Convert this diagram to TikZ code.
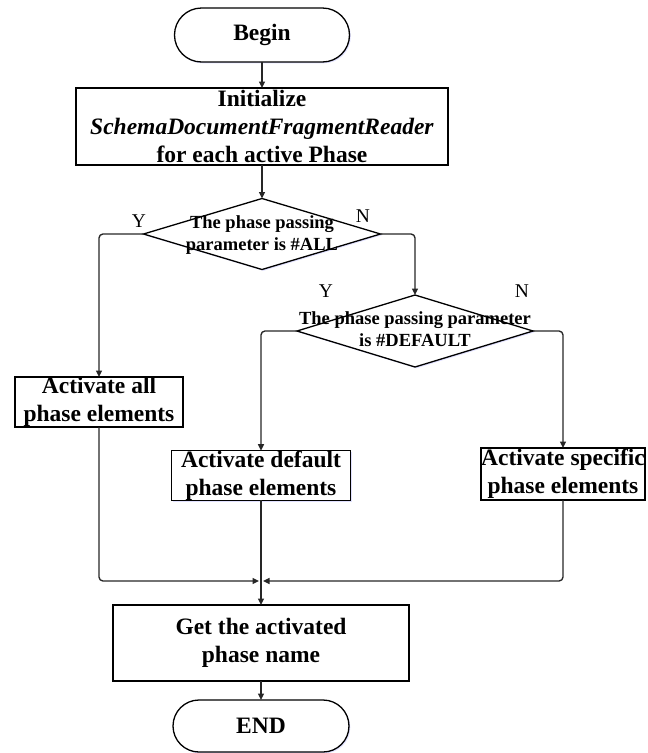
\documentclass[tikz,border=0pt]{standalone}
\usepackage{fontspec}
\setmainfont{Liberation Serif}
\usetikzlibrary{arrows.meta,shapes.geometric,shapes.misc,shadows}

\newcommand\flowfont{\fontsize{23.5}{28}\selectfont\bfseries}
\newcommand\askfont{\fontsize{18.5}{22}\selectfont\bfseries}
\newcommand\ynfont{\fontsize{19.5}{22}\selectfont}

\begin{document}
\begin{tikzpicture}[x=1pt,y=-1pt,
  every node/.style={inner sep=0pt, outer sep=0pt},
  soft/.style={drop shadow={shadow xshift=1.3pt, shadow yshift=-1.3pt,
      fill=blue!40, opacity=0.3}},
  stepbox/.style={rectangle, draw=black, fill=white, line width=1.4pt,
      align=center, font=\flowfont, soft},
  terminal/.style={rounded rectangle, draw=black, fill=white, line width=1.3pt,
      font=\flowfont, soft},
  question/.style={diamond, draw=black, fill=white, line width=1.3pt, soft},
  asktext/.style={align=center, font=\askfont},
  yn/.style={font=\ynfont},
  conn/.style={draw=black!85, line width=1.35pt, rounded corners=4pt,
      -{Triangle[length=6.5pt,width=6pt]}}]

\useasboundingbox (0,0) rectangle (648,753);

% terminals and processing steps
\node[terminal, minimum width=175pt, minimum height=54pt] (begin) at (262,35) {Begin};
\node[stepbox, minimum width=372pt, minimum height=77pt] (init) at (262,126.5)
  {Initialize\\ \textit{SchemaDocumentFragmentReader}\\ for each active Phase};

% first decision
\node[question, minimum width=237pt, minimum height=71pt] (d1) at (262,234) {};
\node[asktext] (d1t) at (262,235) {The phase passing\\ parameter is \#ALL};
\node[yn] (y1) at (139,221) {Y};
\node[yn] (n1) at (363,216) {N};

% second decision
\node[question, minimum width=236pt, minimum height=72pt] (d2) at (415,331) {};
\node[asktext] (d2t) at (415,329) {The phase passing parameter\\ is \#DEFAULT};
\node[yn] (y2) at (326,291) {Y};
\node[yn] (n2) at (522,291) {N};

% activation steps
\node[stepbox, minimum width=168pt, minimum height=50pt] (all) at (99,402)
  {Activate all\\ phase elements};
\node[stepbox, minimum width=179pt, minimum height=49pt] (default) at (261,475.5)
  {Activate default\\ phase elements};
\node[stepbox, minimum width=164pt, minimum height=52pt] (specific) at (563,474)
  {Activate specific\\ phase elements};

% merge point
\coordinate (mergeL) at (259,581);
\coordinate (mergeR) at (263,581);

% final steps
\node[stepbox, minimum width=296pt, minimum height=76pt] (get) at (261,643)
  {Get the activated\\ phase name};
\node[terminal, minimum width=176pt, minimum height=52pt] (end) at (261,726) {END};

% connectors
\draw[conn] (begin) -- (init);
\draw[conn] (init) -- (d1);
\draw[conn] (d1.west) -| (all);
\draw[conn] (d1.east) -| (d2);
\draw[conn] (d2.west) -| (default);
\draw[conn] (d2.east) -| (specific);
\draw[conn] (all) |- (mergeL);
\draw[conn] (specific) |- (mergeR);
\draw[conn] (default) -- (get);
\draw[conn] (get) -- (end);
\end{tikzpicture}
\end{document}
